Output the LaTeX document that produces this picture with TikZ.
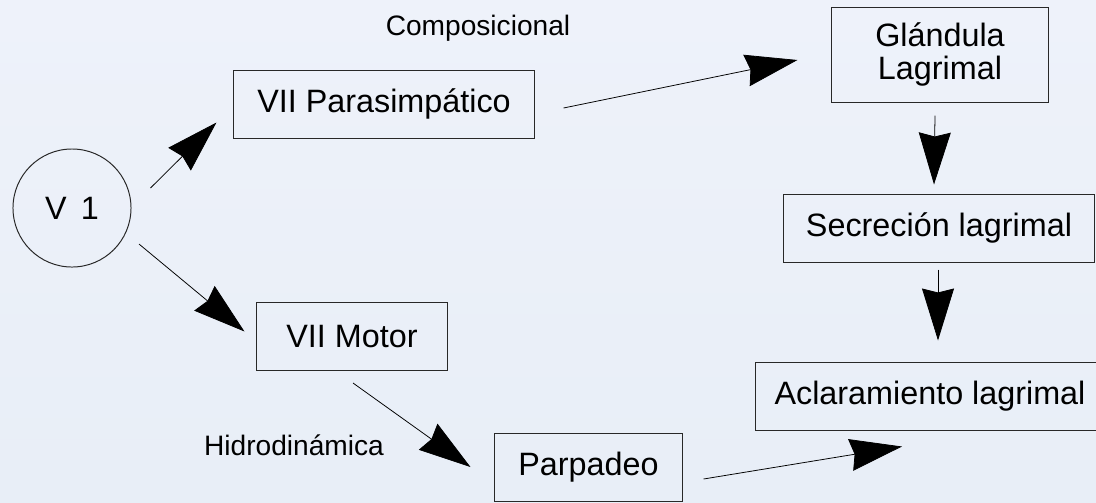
\documentclass[tikz,border=0pt]{standalone}
\usepackage{fontspec}
\setmainfont{Liberation Sans}
\usepackage{tikz}
\usetikzlibrary{shapes,arrows.meta,positioning,calc}
\usepackage{xcolor}
\definecolor{paletop}{RGB}{238,242,250}
\definecolor{palebottom}{RGB}{232,238,247}
\definecolor{inkgrey}{RGB}{40,40,40}

\begin{document}
\begin{tikzpicture}[x=0.025cm, y=-0.025cm,
    box/.style={rectangle, draw=inkgrey, line width=0.7pt, minimum height=1.7cm, inner sep=0pt, font=\fontsize{23}{23}\selectfont},
    nerve/.style={circle, draw=inkgrey, line width=0.7pt, minimum size=2.95cm, inner sep=0pt, font=\fontsize{23}{23}\selectfont},
    tag/.style={anchor=base, font=\fontsize{20}{20}\selectfont},
    arr/.style={-{Stealth[length=1.3cm, width=0.8cm, inset=0.1cm]}, line width=0.55pt, black}
]
    \useasboundingbox (0,0) rectangle (1096,502);
    \shade[top color=paletop, bottom color=palebottom] (0,0) rectangle (1096,502);
    \clip (0,0) rectangle (1096,502);

    \node[nerve] (V) at (72,208) {V\, 1};
    \node[box, minimum width=7.5cm] (para) at (384,104) {VII Parasimpático};
    \node[box, minimum width=4.75cm] (motor) at (352,336.5) {VII Motor};
    \node[box, minimum width=5.4cm, minimum height=2.375cm, align=center] (gland) at (940,54.5) {Glándula\\Lagrimal};
    \node[box, minimum width=7.75cm] (secr) at (939,228) {Secreción lagrimal};
    \node[box, minimum width=8.7cm] (aclar) at (930,396) {Aclaramiento lagrimal};
    \node[box, minimum width=4.675cm] (parp) at (588.5,467) {Parpadeo};

    \node[tag] (comp) at (478,35) {Composicional};
    \node[tag] (hidro) at (294,455) {Hidrodinámica};

    \draw[arr] ([shift={(19,-20)}]V.east) -- ([shift={(-17,-16)}]para.south west);
    \draw[arr] ([shift={(25,-6)}]V.south east) -- ([shift={(-12,-5)}]motor.west);
    \draw[arr] ([shift={(29,4)}]para.east) -- ([shift={(-34,5.5)}]gland.west);
    \draw[arr] ([shift={(-5,13)}]gland.south) -- ([shift={(-5,-9)}]secr.north);
    \draw[arr] ([shift={(-1,7)}]secr.south) -- ([shift={(8,-21)}]aclar.north);
    \draw[arr] ([shift={(1,12)}]motor.south) -- ([shift={(-24,0)}]parp.west);
    \draw[arr] ([shift={(21,12)}]parp.east) -- ([shift={(-28,16)}]aclar.south);
\end{tikzpicture}
\end{document}
